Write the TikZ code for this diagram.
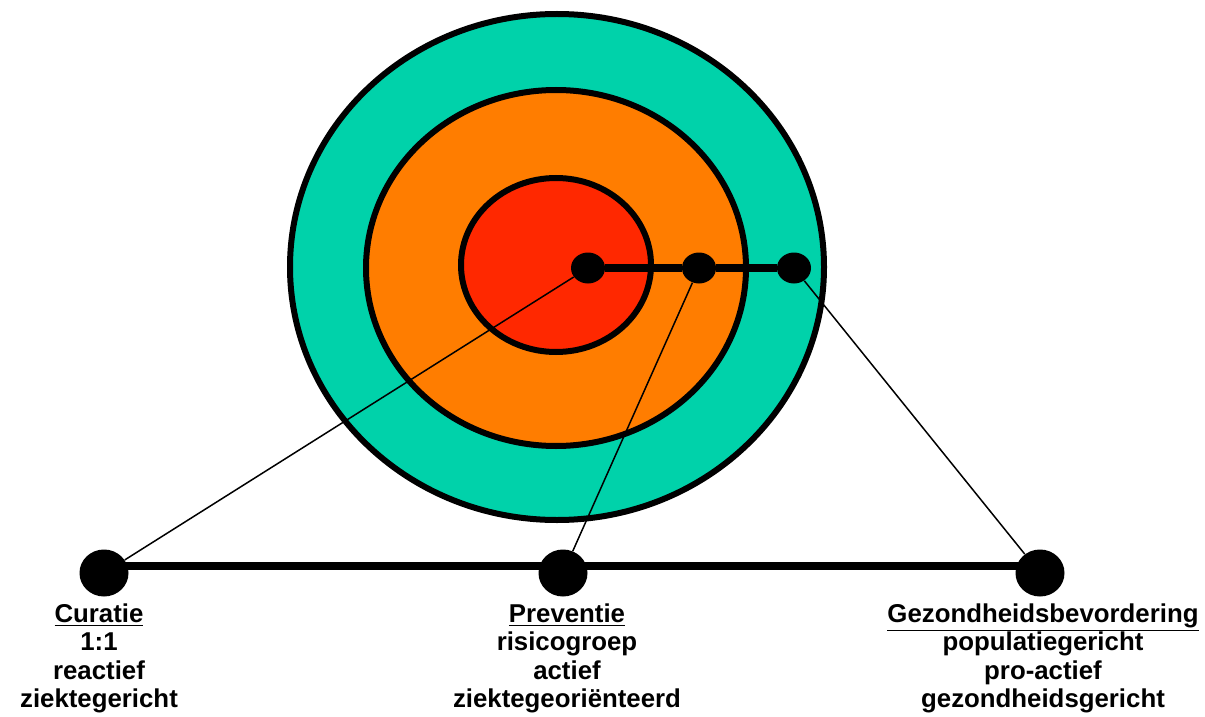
\documentclass[tikz,border=0pt]{standalone}
\usepackage{fontspec}
\setmainfont{Liberation Sans}
\usetikzlibrary{shapes.geometric}
\definecolor{ringteal}{RGB}{0,210,170}
\definecolor{ringorange}{RGB}{255,125,0}
\definecolor{ringred}{RGB}{255,40,0}
\begin{document}
\begin{tikzpicture}[x=0.5pt, y=-0.5pt, ring/.style={draw=black, line width=3pt},
		dot/.style={ellipse, fill=black, inner sep=0pt, minimum width=17pt, minimum height=15.5pt},
		bigdot/.style={ellipse, fill=black, inner sep=0pt, minimum width=24.5pt, minimum height=23.5pt},
		bar/.style={line width=4pt}, thin/.style={line width=0.75pt},
		caption/.style={anchor=north, align=center, inner sep=0pt, font=\fontsize{12.9}{14.3}\selectfont\bfseries}]
	
	\useasboundingbox (0,0) rectangle (1205,717);
	
	\draw[ring, fill=ringteal] (557,267) ellipse [x radius=267, y radius=253];
	\draw[ring, fill=ringorange] (556,268) ellipse [x radius=190, y radius=178];
	\draw[ring, fill=ringred] (556,265) ellipse [x radius=95, y radius=87];
	
	\node[dot] (kern) at (588,268) {};
	\node[dot] (midden) at (699,268) {};
	\node[dot] (rand) at (794,268) {};
	
	\node[bigdot] (cur) at (104,573) {};
	\node[bigdot] (prev) at (563,573) {};
	\node[bigdot] (gez) at (1040,573) {};
	
	\draw[bar] (kern) -- (midden) -- (rand);
	\draw[bar] ([yshift=3.5pt]cur.center) -- ([yshift=3.5pt]gez.center);
	
	\draw[thin] (kern) -- (cur);
	\draw[thin] (midden) -- (prev);
	\draw[thin] (rand) -- (gez);
	
	\node[caption] (curtxt) at (99,603) {\underline{Curatie}\\1:1\\reactief\\ziektegericht};
	\node[caption] (prevtxt) at (567,603) {\underline{Preventie}\\risicogroep\\actief\\ziektegeoriënteerd};
	\node[caption] (geztxt) at (1043,603) {\underline{Gezondheidsbevordering}\\populatiegericht\\pro-actief\\gezondheidsgericht};
	
\end{tikzpicture}
\end{document}
